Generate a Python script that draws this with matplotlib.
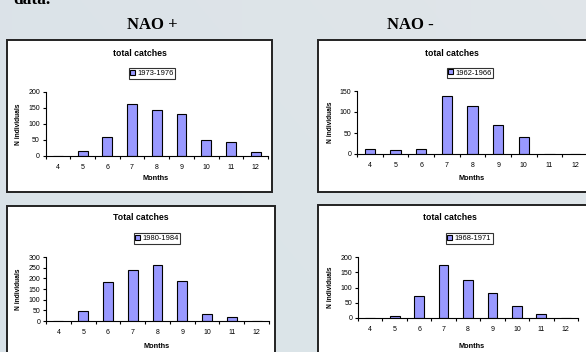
import numpy as np
import matplotlib
matplotlib.use("Agg")
import matplotlib.pyplot as plt
from matplotlib.patches import Rectangle

months = ["4", "5", "6", "7", "8", "9", "10", "11", "12"]
nao_pos_1973_1976 = [0, 15, 60, 162, 145, 132, 50, 45, 13]
nao_neg_1962_1966 = [12, 9, 13, 138, 114, 69, 40, 1, 1]
nao_pos_1980_1984 = [0, 45, 183, 240, 264, 187, 34, 19, 0]
nao_neg_1968_1971 = [0, 5, 71, 173, 124, 81, 38, 14, 0]

W, H = 586, 352
fig = plt.figure(figsize=(W / 100, H / 100), dpi=100)
plt.rcParams['font.family'] = ['Liberation Sans', 'DejaVu Sans']

# background
bg = fig.add_axes([0, 0, 1, 1], zorder=-10)
yy, xx = np.mgrid[0:1:200j, 0:1:300j]
r = 0.86 + 0.02 * xx - 0.01 * yy
g = 0.89 + 0.01 * xx
b = 0.91 + 0.005 * xx
img = np.dstack([r, g, b]).clip(0, 1)
bg.imshow(img, extent=[0, 1, 0, 1], aspect='auto', origin='upper')
bg.axis('off')

def fx(px):
    return px / W

def fy(py):
    return 1 - py / H

def box(x0, y0, x1, y1):
    fig.patches.append(Rectangle((fx(x0), fy(y1)), fx(x1) - fx(x0), fy(y0) - fy(y1),
                                 transform=fig.transFigure, facecolor='white',
                                 edgecolor='#222222', linewidth=1.4, zorder=-5))

box(7, 40, 272, 192)
box(318, 40, 600, 192)
box(7, 206, 275, 370)
box(318, 205, 600, 370)

fig.text(fx(13), fy(4), "data.", family=['Liberation Serif'], weight='bold', fontsize=12.5, va='baseline')
fig.text(fx(152), fy(29), "NAO +", family=['Liberation Serif'], weight='bold', fontsize=12, ha='center', va='baseline')
fig.text(fx(410), fy(29), "NAO -", family=['Liberation Serif'], weight='bold', fontsize=12, ha='center', va='baseline')

panels = [
    (nao_pos_1973_1976, "1973-1976", "total catches", (45.5, 268, 92, 156), 200, 50, (140, 53), (152, 73.5), 19, (156, 179)),
    (nao_neg_1962_1966, "1962-1966", "total catches", (357, 588, 91, 154), 150, 50, (452, 53), (470, 73), 331, (472, 179)),
    (nao_pos_1980_1984, "1980-1984", "Total catches", (46, 269, 257, 321), 300, 50, (141, 217), (157, 238.5), 19, (157, 347)),
    (nao_neg_1968_1971, "1968-1971", "total catches", (358, 578, 257, 318), 200, 50, (450, 218), (469, 238.5), 330, (472, 347)),
]

for vals, lab, title, (ax0, ax1, aytop, ay0), ymax, ystep, tpos, lpos, ylx, mpos in panels:
    ax = fig.add_axes([fx(ax0), fy(ay0), fx(ax1) - fx(ax0), fy(aytop) - fy(ay0)], zorder=2)
    ax.patch.set_alpha(0)
    x = np.arange(len(months))
    bars = ax.bar(x, vals, width=0.4, color='#9999ff', edgecolor='black', linewidth=0.8, label=lab)
    ax.set_xlim(-0.5, len(months) - 0.5)
    ax.set_ylim(0, ymax)
    ax.set_yticks(np.arange(0, ymax + 1, ystep))
    ax.set_xticks(x)
    ax.set_xticklabels(months)
    ax.set_xticks(np.arange(-0.5, len(months), 1), minor=True)
    ax.tick_params(axis='x', which='major', length=0, labelsize=5, pad=6)
    ax.tick_params(axis='x', which='minor', length=2.5, width=0.8, direction='out')
    ax.tick_params(axis='y', length=2.5, width=0.8, labelsize=5, pad=1.5)
    for s in ['top', 'right']:
        ax.spines[s].set_visible(False)
    for s in ['left', 'bottom']:
        ax.spines[s].set_linewidth(0.8)
    fig.text(fx(tpos[0]), fy(tpos[1]), title, ha='center', va='center', fontsize=6.3, weight='bold')
    fig.text(fx(ylx), (fy(aytop) + fy(ay0)) / 2, "N individuals", rotation=90, ha='center', va='center',
             fontsize=4.8, weight='bold')
    fig.text(fx(mpos[0]), fy(mpos[1]), "Months", ha='center', va='center', fontsize=5.3, weight='bold')
    leg = fig.legend(handles=[bars], labels=[lab], loc='center', bbox_to_anchor=(fx(lpos[0]), fy(lpos[1])),
                     bbox_transform=fig.transFigure, fontsize=5.4, frameon=True, fancybox=False,
                     handlelength=0.6, handleheight=0.6, handletextpad=0.3, borderpad=0.25,
                     borderaxespad=0)
    leg.get_frame().set_edgecolor('black')
    leg.get_frame().set_linewidth(0.8)

fig.savefig("out.png", dpi=100)
